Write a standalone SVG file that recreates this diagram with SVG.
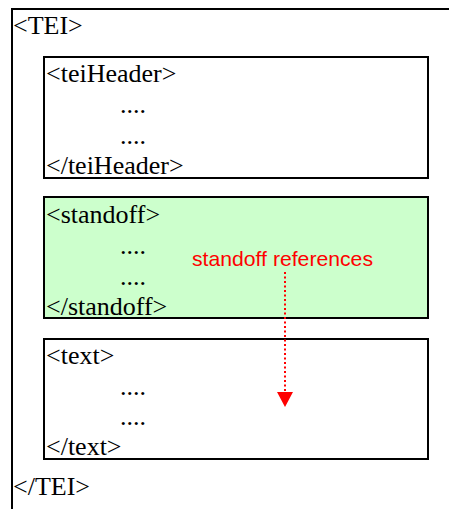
<svg xmlns="http://www.w3.org/2000/svg" width="449" height="509" viewBox="0 0 449 509">
<style>
.box{fill:#fff;stroke:#000;stroke-width:2}
.green{fill:#ccffcc}
.s{font-family:"Liberation Serif","Times New Roman",serif;font-size:26px;fill:#000}
.lbl{font-family:"Liberation Sans",Arial,sans-serif;font-size:21px;fill:#ff0000}
</style>
<rect width="449" height="509" fill="#fff"/>
<g id="tei">
<rect class="box" x="12" y="9" width="460" height="520"/>
<text class="s" x="13" y="34">&lt;TEI&gt;</text>
<text class="s" x="13" y="495">&lt;/TEI&gt;</text>
</g>
<g id="teiHeader">
<rect class="box" x="44" y="57" width="384" height="121"/>
<text class="s" x="46" y="82">&lt;teiHeader&gt;</text>
<text class="s" x="120" y="113">....</text>
<text class="s" x="120" y="144">....</text>
<text class="s" x="46" y="174">&lt;/teiHeader&gt;</text>
</g>
<g id="standoff">
<rect class="box green" x="44" y="197" width="384" height="121"/>
<text class="s" x="46" y="223">&lt;standoff&gt;</text>
<text class="s" x="120" y="254">....</text>
<text class="s" x="120" y="285">....</text>
<text class="s" x="46" y="315">&lt;/standoff&gt;</text>
</g>
<g id="text">
<rect class="box" x="44" y="339" width="384" height="120"/>
<text class="s" x="46" y="364">&lt;text&gt;</text>
<text class="s" x="120" y="395">....</text>
<text class="s" x="120" y="425">....</text>
<text class="s" x="46" y="455">&lt;/text&gt;</text>
</g>
<g id="connectors">
<line x1="285" y1="272" x2="285" y2="393" stroke="#ff0000" stroke-width="2" stroke-dasharray="2 2.5"/>
<polygon points="277,392 293,392 285,407" fill="#ff0000"/>
<text class="lbl" x="192" y="266" textLength="181" lengthAdjust="spacingAndGlyphs">standoff references</text>
</g>
</svg>
